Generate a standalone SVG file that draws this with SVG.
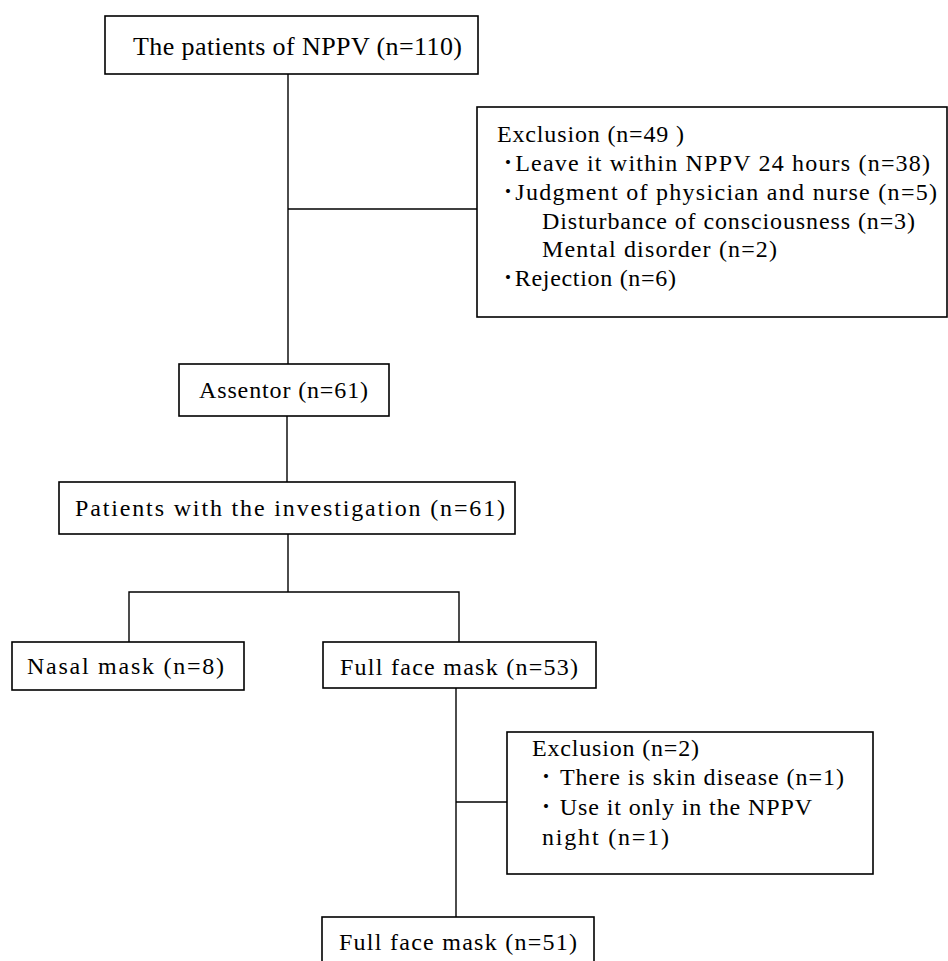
<svg xmlns="http://www.w3.org/2000/svg" width="948" height="961" viewBox="0 0 948 961">
<style>
  .box { fill: #ffffff; stroke: #000000; stroke-width: 1.6; }
  .ln { fill: none; stroke: #000000; stroke-width: 1.4; }
  text { font-family: "Liberation Serif", "Noto Sans CJK JP", serif; fill: #000000; font-size: 24px; }
  .lg { font-size: 26px; }
  .md { font-size: 24px; }
</style>
<rect width="948" height="961" fill="#ffffff"/>
<g id="connectors">
  <line class="ln" x1="288" y1="74" x2="288" y2="364"/>
  <line class="ln" x1="288" y1="209" x2="477" y2="209"/>
  <line class="ln" x1="287" y1="416" x2="287" y2="482"/>
  <line class="ln" x1="288" y1="534" x2="288" y2="592"/>
  <polyline class="ln" points="129,642 129,592 459,592 459,642"/>
  <line class="ln" x1="456" y1="688" x2="456" y2="917"/>
  <line class="ln" x1="456" y1="802" x2="507" y2="802"/>
</g>
<g id="n_all">
  <rect class="box" x="105" y="16" width="373" height="58"/>
  <text class="lg" x="133" y="55" textLength="329">The patients  of NPPV (n=110)</text>
</g>
<g id="n_excl1">
  <rect class="box" x="477" y="107" width="470" height="210"/>
  <text x="497" y="142" textLength="187">Exclusion (n=49 )</text>
  <text x="502" y="171" textLength="428">･Leave it within NPPV 24 hours (n=38)</text>
  <text x="502" y="200" textLength="435">･Judgment of physician and nurse (n=5)</text>
  <text x="542" y="229" textLength="373">Disturbance of consciousness (n=3)</text>
  <text x="542" y="257" textLength="235">Mental disorder (n=2)</text>
  <text x="502" y="286" textLength="174">･Rejection (n=6)</text>
</g>
<g id="n_assentor">
  <rect class="box" x="179" y="364" width="210" height="52"/>
  <text class="md" x="199" y="398" textLength="169">Assentor (n=61)</text>
</g>
<g id="n_invest">
  <rect class="box" x="59" y="482" width="456" height="52"/>
  <text class="md" x="75" y="516" textLength="430">Patients with the investigation (n=61)</text>
</g>
<g id="n_nasal">
  <rect class="box" x="12" y="642" width="232" height="48"/>
  <text class="md" x="27" y="674" textLength="197">Nasal mask (n=8)</text>
</g>
<g id="n_full53">
  <rect class="box" x="323" y="642" width="273" height="46"/>
  <text class="md" x="340" y="675" textLength="238">Full face mask (n=53)</text>
</g>
<g id="n_excl2">
  <rect class="box" x="507" y="732" width="366" height="142"/>
  <text class="md" x="532" y="756" textLength="167">Exclusion (n=2)</text>
  <text class="md" x="540" y="785" textLength="304">･ There is skin disease (n=1)</text>
  <text class="md" x="540" y="815" textLength="272">･ Use it only in the NPPV</text>
  <text class="md" x="542" y="845" textLength="127">night (n=1)</text>
</g>
<g id="n_full51">
  <rect class="box" x="322" y="917" width="272" height="60"/>
  <text class="md" x="339" y="950" textLength="238">Full face mask (n=51)</text>
</g>
</svg>
